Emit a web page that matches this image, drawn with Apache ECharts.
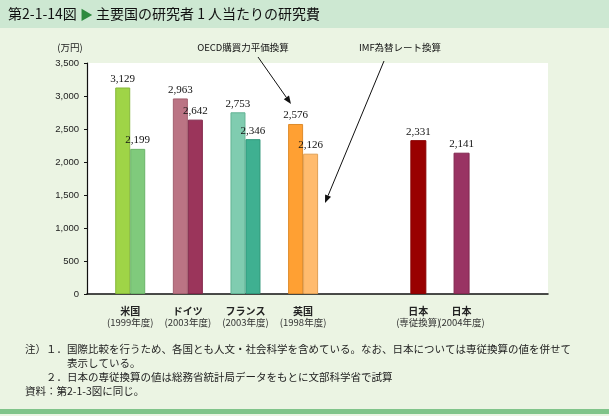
<!DOCTYPE html>
<html>
<head>
<meta charset="utf-8">
<script src="https://cdn.jsdelivr.net/npm/echarts@6/dist/echarts.min.js"></script>
<style>
html,body{margin:0;padding:0;background:#ebf4e3;}
#c{width:609px;height:416px;}
</style>
</head>
<body>
<div id="c"></div>
<script>
// ---- data ----
const countries = ['米国', 'ドイツ', 'フランス', '英国'];
const countryYears = ['(1999年度)', '(2003年度)', '(2003年度)', '(1998年度)'];
const pppValues = [3129, 2963, 2753, 2576];   // OECD購買力平価換算
const imfValues = [2199, 2642, 2346, 2126];   // IMF為替レート換算
const japanNames = ['日本', '日本'];
const japanSubs = ['(専従換算)', '(2004年度)'];
const japanValues = [2331, 2141];
const yTicks = [0, 500, 1000, 1500, 2000, 2500, 3000, 3500];

// ---- layout (category slots on the axis) ----
const slotCount = 33;
const countrySlots = [3, 7, 11, 15];
const japanSlots = [23, 26];

// ---- styles ----
const pppColors = [['#9fd447', '#86b83a'], ['#bb7484', '#a3606f'], ['#80ccb0', '#62b394'], ['#ffa033', '#de8a2a']];
const imfColors = [['#80ca7c', '#6bb468'], ['#9b355b', '#82264a'], ['#3fb091', '#2f977a'], ['#ffbb6e', '#e0a055']];
const japanColors = [['#990000', '#880000'], ['#993363', '#82284f']];

const categories = new Array(slotCount).fill('');
const pppData = new Array(slotCount).fill(null);
const imfData = new Array(slotCount).fill(null);
const japanData = new Array(slotCount).fill(null);
countrySlots.forEach((s, i) => {
  categories[s] = '{b|' + countries[i] + '}\n{s|' + countryYears[i] + '}';
  pppData[s] = {value: pppValues[i], itemStyle: {color: pppColors[i][0], borderColor: pppColors[i][1]}};
  imfData[s] = {value: imfValues[i], itemStyle: {color: imfColors[i][0], borderColor: imfColors[i][1]}};
});
japanSlots.forEach((s, i) => {
  categories[s] = '{b|' + japanNames[i] + '}\n{s|' + japanSubs[i] + '}';
  japanData[s] = {value: japanValues[i], itemStyle: {color: japanColors[i][0], borderColor: japanColors[i][1]}};
});

const fmt = v => String(v).replace(/\B(?=(\d{3})+(?!\d))/g, ',');
const jp = '"Noto Sans CJK JP", "Noto Sans", sans-serif';

const valueLabel = {
  show: true, position: 'top', distance: 3,
  fontFamily: '"Liberation Serif", "DejaVu Serif", serif', fontSize: 11, color: '#111',
  formatter: p => fmt(p.value)
};

function arrow(x1, y1, x2, y2) {
  const a = Math.atan2(y2 - y1, x2 - x1), L = 8, W = 3.2;
  const bx = x2 - L * Math.cos(a), by = y2 - L * Math.sin(a);
  const nx = -Math.sin(a) * W, ny = Math.cos(a) * W;
  return [
    {type: 'line', shape: {x1: x1, y1: y1, x2: bx, y2: by}, style: {stroke: '#111', lineWidth: 1}},
    {type: 'polygon', shape: {points: [[x2, y2], [bx + nx, by + ny], [bx - nx, by - ny]]}, style: {fill: '#111'}}
  ];
}

const chart = echarts.init(document.getElementById('c'), null, {renderer: 'canvas'});
const xAxisBase = {
  type: 'category', data: categories, boundaryGap: false,
  axisLine: {lineStyle: {color: '#111', width: 1.5}},
  axisTick: {show: false},
  axisLabel: {
    interval: 0, margin: 12, color: '#222',
    rich: {
      b: {fontFamily: jp, fontSize: 10, fontWeight: 'bold', color: '#222', lineHeight: 11},
      s: {fontFamily: jp, fontSize: 9.5, color: '#333', lineHeight: 11}
    }
  },
  splitLine: {show: false}
};
chart.setOption({
  backgroundColor: '#ebf4e3',
  animation: false,
  grid: {left: 87, right: 61, top: 63, bottom: 122, show: true, backgroundColor: '#ffffff', borderWidth: 0},
  xAxis: [xAxisBase, Object.assign({}, xAxisBase, {show: false, position: 'bottom'})],
  yAxis: {
    type: 'value', min: 0, max: 3500, interval: 500,
    axisLine: {show: true, lineStyle: {color: '#111', width: 1.2}},
    axisTick: {show: true, length: 3, lineStyle: {color: '#111'}},
    splitLine: {show: false},
    axisLabel: {
      margin: 8, color: '#222', fontFamily: '"Liberation Sans", Arial, sans-serif', fontSize: 9.5,
      formatter: v => yTicks.indexOf(v) >= 0 ? fmt(v) : ''
    }
  },
  series: [
    {type: 'bar', name: 'OECD購買力平価換算', xAxisIndex: 0, data: pppData, barWidth: 15, barGap: '0%',
      itemStyle: {borderWidth: 1}, label: valueLabel},
    {type: 'bar', name: 'IMF為替レート換算', xAxisIndex: 0, data: imfData, barWidth: 15, barGap: '0%',
      itemStyle: {borderWidth: 1}, label: valueLabel},
    {type: 'bar', name: '日本', xAxisIndex: 1, data: japanData, barWidth: 16,
      itemStyle: {borderWidth: 1}, label: valueLabel}
  ],
  graphic: [
    {type: 'rect', shape: {x: 0, y: 0, width: 609, height: 28}, style: {fill: '#cde8d2'}},
    {type: 'text', left: 8, top: 7, style: {
      text: '第2-1-14図 {t|▶} 主要国の研究者 1 人当たりの研究費',
      fontFamily: jp, fontSize: 14, fill: '#111',
      rich: {t: {fontFamily: jp, fontSize: 13, fill: '#2e8a3e'}}
    }},
    {type: 'text', x: 70, y: 47, style: {text: '(万円)', fontFamily: jp, fontSize: 9.5, fill: '#222', align: 'center', verticalAlign: 'middle'}},
    {type: 'text', x: 243, y: 47, style: {text: 'OECD購買力平価換算', fontFamily: jp, fontSize: 9.5, fill: '#111', align: 'center', verticalAlign: 'middle'}},
    {type: 'text', x: 400, y: 47, style: {text: 'IMF為替レート換算', fontFamily: jp, fontSize: 9.5, fill: '#111', align: 'center', verticalAlign: 'middle'}}
  ]
    .concat(arrow(258, 57, 291, 104))
    .concat(arrow(384, 61, 325, 203))
    .concat([
      {type: 'text', x: 25, y: 349, style: {text: '注）１．国際比較を行うため、各国とも人文・社会科学を含めている。なお、日本については専従換算の値を併せて', fontFamily: jp, fontSize: 10.5, fill: '#222', verticalAlign: 'middle'}},
      {type: 'text', x: 67, y: 363, style: {text: '表示している。', fontFamily: jp, fontSize: 10.5, fill: '#222', verticalAlign: 'middle'}},
      {type: 'text', x: 46, y: 377, style: {text: '２．日本の専従換算の値は総務省統計局データをもとに文部科学省で試算', fontFamily: jp, fontSize: 10.5, fill: '#222', verticalAlign: 'middle'}},
      {type: 'text', x: 25, y: 391, style: {text: '資料：第2-1-3図に同じ。', fontFamily: jp, fontSize: 10.5, fill: '#222', verticalAlign: 'middle'}},
      {type: 'rect', shape: {x: 0, y: 409, width: 609, height: 5}, style: {fill: '#80c48a'}}
    ])
});
</script>
</body>
</html>
